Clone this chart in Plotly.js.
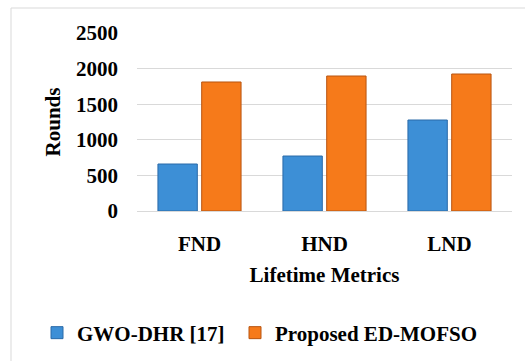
<!DOCTYPE html>
<html><head><meta charset="utf-8">
<script src="https://cdn.plot.ly/plotly-3.0.1.min.js"></script>
<style>html,body{margin:0;padding:0;background:#fff;}#chart{width:525px;height:361px;}</style>
</head><body><div id="chart"></div>
<script>
const categories = ['FND', 'HND', 'LND'];
const gwoDhr = [660, 772, 1278];
const edMofso = [1812, 1896, 1924];
const seriesNames = ['GWO-DHR [17]', 'Proposed ED-MOFSO'];
const yTicks = [0, 500, 1000, 1500, 2000, 2500];

function mkFont() { return {family: 'Liberation Serif', size: 21, color: '#000', weight: 'bold'}; }
const traces = [
  {type: 'bar', name: seriesNames[0], x: categories, y: gwoDhr, legend: 'legend3',
   marker: {color: '#3d8fd6', line: {color: '#2a6aa8', width: 1}}},
  {type: 'bar', name: seriesNames[1], x: categories, y: edMofso, legend: 'legend2',
   marker: {color: '#f67a1a', line: {color: '#b85410', width: 1}}}
];
function mkLeg(xpx) {
  return {orientation: 'h', yref: 'container', y: 1 - 333 / 361, yanchor: 'middle',
          xref: 'container', x: xpx / 525, xanchor: 'left',
          font: mkFont(), itemwidth: 30, bgcolor: 'rgba(0,0,0,0)'};
}
const layout = {
  width: 525, height: 361,
  margin: {l: 137, r: 13, t: 33, b: 150},
  paper_bgcolor: '#fff', plot_bgcolor: '#fff',
  font: mkFont(),
  barmode: 'group', bargap: 0.30, bargroupgap: 0.1,
  showlegend: true,
  legend3: mkLeg(77 - 40),
  legend2: mkLeg(275 - 40),
  xaxis: {tickfont: mkFont(), ticks: '', showline: false, showgrid: false, zeroline: false,
          ticklabelstandoff: 18,
          title: {text: 'Lifetime Metrics', font: mkFont(), standoff: 12}},
  yaxis: {range: [0, 2500], tickvals: yTicks, ticktext: yTicks.map(String), tickfont: mkFont(),
          showgrid: true, gridcolor: '#d9d9d9', gridwidth: 1, zeroline: true, zerolinecolor: '#d9d9d9',
          showline: false, ticks: '', ticklabelstandoff: 18,
          title: {text: 'Rounds', font: mkFont(), standoff: 9}},
  shapes: [{type: 'rect', xref: 'paper', yref: 'paper', x0: -0.336, x1: 1.2, y0: -0.95, y1: 1.1404,
            line: {color: '#d9d9d9', width: 1}, fillcolor: 'rgba(0,0,0,0)', layer: 'below'}]
};
Plotly.newPlot('chart', traces, layout, {displayModeBar: false, staticPlot: true});
</script></body></html>
